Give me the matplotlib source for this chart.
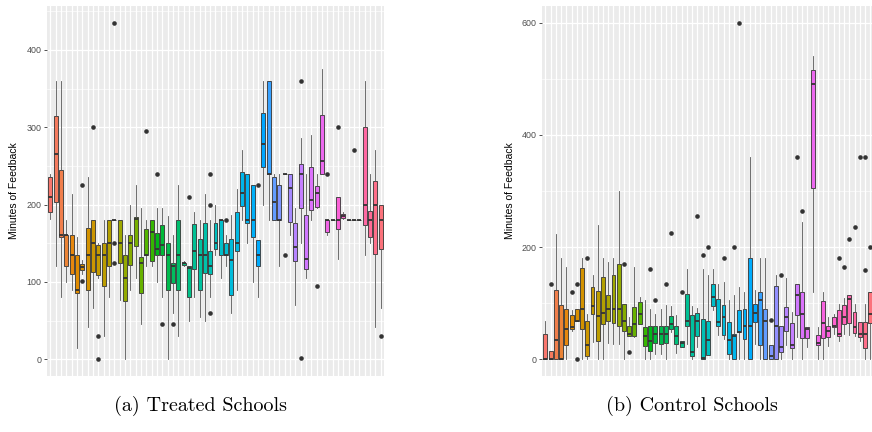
import numpy as np
import matplotlib
matplotlib.use("Agg")
import matplotlib.pyplot as plt
from matplotlib.ticker import MultipleLocator

# ---- Treated schools: one box per school (whisker low, q1, median, q3, whisker high)
treated_lo = [181, 120, 81, 100, 90, 15, 110, 41, 66, 105, 30, 80, 180, 76, 0, 90,
              105, 46, 120, 120, 100, 81, 0, 60, 30, 120, 50, 80, 55, 50, 80, 135,
              105, 120, 60, 90, 180, 150, 100, 80, 200, 180, 180, 120, 240, 160, 70,
              150, 105, 180, 195, 240, 160, 180, 130, 181, 180, 180, 180, 135, 150, 42, 66]
treated_q1 = [190, 203, 158, 120, 110, 85, 115, 90, 113, 109, 95, 120, 180, 125, 75, 122,
              147, 85, 135, 127, 135, 135, 90, 99, 90, 122, 81, 116, 90, 112, 110, 142,
              135, 135, 83, 140, 198, 176, 158, 120, 248, 240, 180, 180, 240, 178, 127,
              195, 117, 193, 197, 240, 164, 180, 168, 182, 180, 180, 180, 174, 158, 136, 142]
treated_med = [210, 265, 160, 160, 135, 90, 119, 135, 150, 135, 135, 150, 180, 150, 105, 150,
               181, 125, 135, 165, 143, 148, 135, 120, 135, 124, 118, 140, 135, 135, 120, 150,
               180, 135, 128, 150, 215, 180, 180, 135, 278, 240, 203, 180, 240, 221, 145,
               240, 130, 206, 215, 256, 180, 180, 180, 185, 180, 180, 180, 200, 180, 200, 180]
treated_q3 = [235, 315, 245, 161, 161, 135, 123, 170, 180, 148, 150, 180, 180, 180, 135, 160,
              184, 132, 169, 180, 163, 174, 150, 124, 180, 125, 120, 175, 155, 176, 140, 176,
              180, 150, 156, 190, 242, 240, 225, 154, 319, 360, 236, 225, 240, 240, 176,
              252, 186, 248, 224, 316, 180, 180, 210, 188, 180, 180, 180, 300, 191, 230, 200]
treated_hi = [240, 360, 360, 180, 214, 158, 128, 235, 180, 150, 180, 180, 180, 180, 160, 200,
              225, 195, 180, 180, 195, 195, 185, 160, 225, 127, 120, 190, 180, 214, 180, 200,
              180, 160, 186, 220, 270, 240, 225, 154, 360, 360, 240, 240, 240, 240, 195,
              286, 240, 290, 240, 375, 180, 180, 210, 190, 180, 180, 180, 360, 240, 270, 200]
treated_out = [[], [], [], [], [], [], [225, 101], [], [300], [30, 0], [], [], [150, 125, 435],
               [], [], [], [], [], [295], [], [240], [45], [], [45], [], [], [210], [], [], [],
               [240, 200, 60], [], [], [180], [], [], [], [], [], [225], [], [], [], [], [135],
               [], [], [360, 2], [], [], [95], [], [240], [], [300], [], [], [270], [], [], [],
               [], [30]]

# ---- Control schools
control_lo = [0, 0, 0, 0, 0, 51, 69, 0, 0, 30, 0, 0, 29, 27, 27, 0, 41, 39, 62, 0, 0, 9,
              9, 0, 48, 11, 21, 27, 0, 21, 0, 8, 87, 43, 36, 0, 0, 0, 0, 0, 27, 0, 0, 0,
              0, 0, 25, 0, 39, 0, 21, 120, 0, 0, 24, 45, 33, 45, 44, 41, 33, 0, 0]
control_q1 = [0, 0, 0, 0, 25, 54, 69, 54, 5, 81, 33, 62, 68, 65, 59, 51, 41, 41, 62, 23, 15,
              29, 27, 29, 54, 27, 21, 60, 6, 41, 0, 8, 95, 60, 43, 9, 0, 48, 36, 0, 66, 25,
              0, 0, 0, 12, 51, 20, 78, 38, 38, 305, 26, 38, 39, 57, 41, 63, 65, 47, 39, 20, 65]
control_med = [0, 0, 35, 0, 54, 57, 69, 90, 25, 95, 77, 83, 90, 90, 90, 68, 45, 62, 80, 42,
               33, 45, 45, 45, 63, 41, 29, 69, 12, 69, 2, 35, 111, 67, 75, 35, 41, 48, 60,
               60, 82, 106, 69, 5, 60, 22, 75, 25, 114, 81, 54, 491, 29, 64, 50, 60, 45, 75,
               108, 57, 45, 45, 80]
control_q3 = [45, 15, 124, 97, 90, 78, 90, 162, 69, 128, 122, 146, 115, 150, 169, 99, 60, 93,
              102, 57, 59, 59, 59, 59, 77, 59, 33, 117, 79, 82, 72, 69, 135, 108, 97, 67, 45,
              88, 89, 180, 99, 120, 89, 25, 131, 59, 93, 64, 134, 120, 57, 515, 44, 103, 60,
              75, 88, 97, 114, 84, 66, 66, 120]
control_hi = [69, 15, 224, 180, 165, 87, 90, 180, 81, 150, 239, 180, 174, 180, 300, 99, 75,
              165, 111, 105, 89, 80, 89, 96, 95, 78, 33, 160, 94, 91, 160, 150, 160, 135, 138,
              105, 114, 129, 120, 360, 123, 180, 180, 25, 150, 59, 144, 84, 134, 245, 57, 540,
              57, 120, 75, 80, 99, 110, 114, 99, 66, 99, 120]
control_out = [[], [135], [], [], [], [120], [135, 0], [], [180], [], [], [], [], [], [],
               [170], [12], [], [], [], [160], [105], [], [135], [225], [], [120], [], [],
               [255], [185], [200], [], [], [180], [], [200], [600], [], [], [], [], [], [70],
               [], [150], [], [], [360], [265], [], [], [], [], [], [], [180], [165], [215],
               [235], [360], [360, 159], [200]]

panel_titles = ["(a) Treated Schools", "(b) Control Schools"]
y_label = "Minutes of Feedback"


def hue_pal(n, c=100.0, l=65.0):
    # ggplot2 default discrete palette (HCL, polar LUV)
    h = np.deg2rad(np.linspace(15, 375, n + 1)[:n])
    u = c * np.cos(h)
    v = c * np.sin(h)
    Y = ((l + 16) / 116) ** 3
    up = u / (13 * l) + 0.1978398
    vp = v / (13 * l) + 0.4683363
    X = 9 * Y * up / (4 * vp)
    Z = -X / 3 - 5 * Y + 3 * Y / vp
    rgb = np.stack([3.240479 * X - 1.537150 * Y - 0.498535 * Z,
                    -0.969256 * X + 1.875992 * Y + 0.041556 * Z,
                    0.055648 * X - 0.204043 * Y + 1.057311 * Z], axis=1)
    rgb = np.where(rgb > 0.00304, 1.055 * np.abs(rgb) ** (1 / 2.4) - 0.055, 12.92 * rgb)
    return np.clip(rgb, 0, 1)


def draw_panel(ax, lo, q1, med, q3, hi, out, ymax, major, minor):
    n = len(med)
    pos = np.arange(1, n + 1)
    stats = [dict(whislo=lo[i], q1=q1[i], med=med[i], q3=q3[i], whishi=hi[i],
                  fliers=out[i]) for i in range(n)]
    bp = ax.bxp(stats, positions=pos, widths=0.75, patch_artist=True, showcaps=False,
                boxprops=dict(edgecolor="#333333", linewidth=0.6),
                medianprops=dict(color="#333333", linewidth=1.3),
                whiskerprops=dict(color="#555555", linewidth=0.6),
                flierprops=dict(marker="o", markersize=3.3, markerfacecolor="#333333",
                                markeredgecolor="none"))
    for patch, col in zip(bp["boxes"], hue_pal(n)):
        patch.set_facecolor(col)

    ax.set_facecolor("#EBEBEB")
    for s in ax.spines.values():
        s.set_visible(False)
    ax.set_xlim(0.4, n + 0.6)
    ax.set_ylim(-ymax * 0.05, ymax * 1.05)
    ax.set_xticks(pos)
    ax.set_xticklabels([])
    ax.tick_params(axis="x", length=0)
    ax.yaxis.set_major_locator(MultipleLocator(major))
    ax.yaxis.set_minor_locator(MultipleLocator(minor))
    ax.tick_params(axis="y", which="major", length=2.5, width=0.6, color="#333333",
                   labelcolor="#4D4D4D", labelsize=6.4, pad=1.5)
    ax.tick_params(axis="y", which="minor", length=0)
    ax.set_axisbelow(True)
    ax.grid(which="major", color="white", linewidth=0.9)
    ax.grid(which="minor", axis="y", color="white", linewidth=0.45)
    ax.set_ylabel(y_label, fontsize=7.5, color="black")
    ax.yaxis.set_label_coords(-0.082, 0.5)


plt.rcParams["font.family"] = ["Liberation Sans", "DejaVu Sans"]

fig = plt.figure(figsize=(8.72, 4.32), dpi=100)
ax1 = fig.add_axes([47.1 / 872, 56 / 432, 336.8 / 872, 370 / 432])
ax2 = fig.add_axes([542.2 / 872, 56 / 432, 331.2 / 872, 370 / 432])

draw_panel(ax1, treated_lo, treated_q1, treated_med, treated_q3, treated_hi,
           treated_out, 435, 100, 50)
draw_panel(ax2, control_lo, control_q1, control_med, control_q3, control_hi,
           control_out, 600, 200, 100)

fig.text(200 / 872, 26 / 432, panel_titles[0], ha="center", va="center",
         fontsize=14.5, family=["cmr10", "DejaVu Serif"])
fig.text(692 / 872, 26 / 432, panel_titles[1], ha="center", va="center",
         fontsize=14.5, family=["cmr10", "DejaVu Serif"])

fig.savefig("out.png", dpi=100)
